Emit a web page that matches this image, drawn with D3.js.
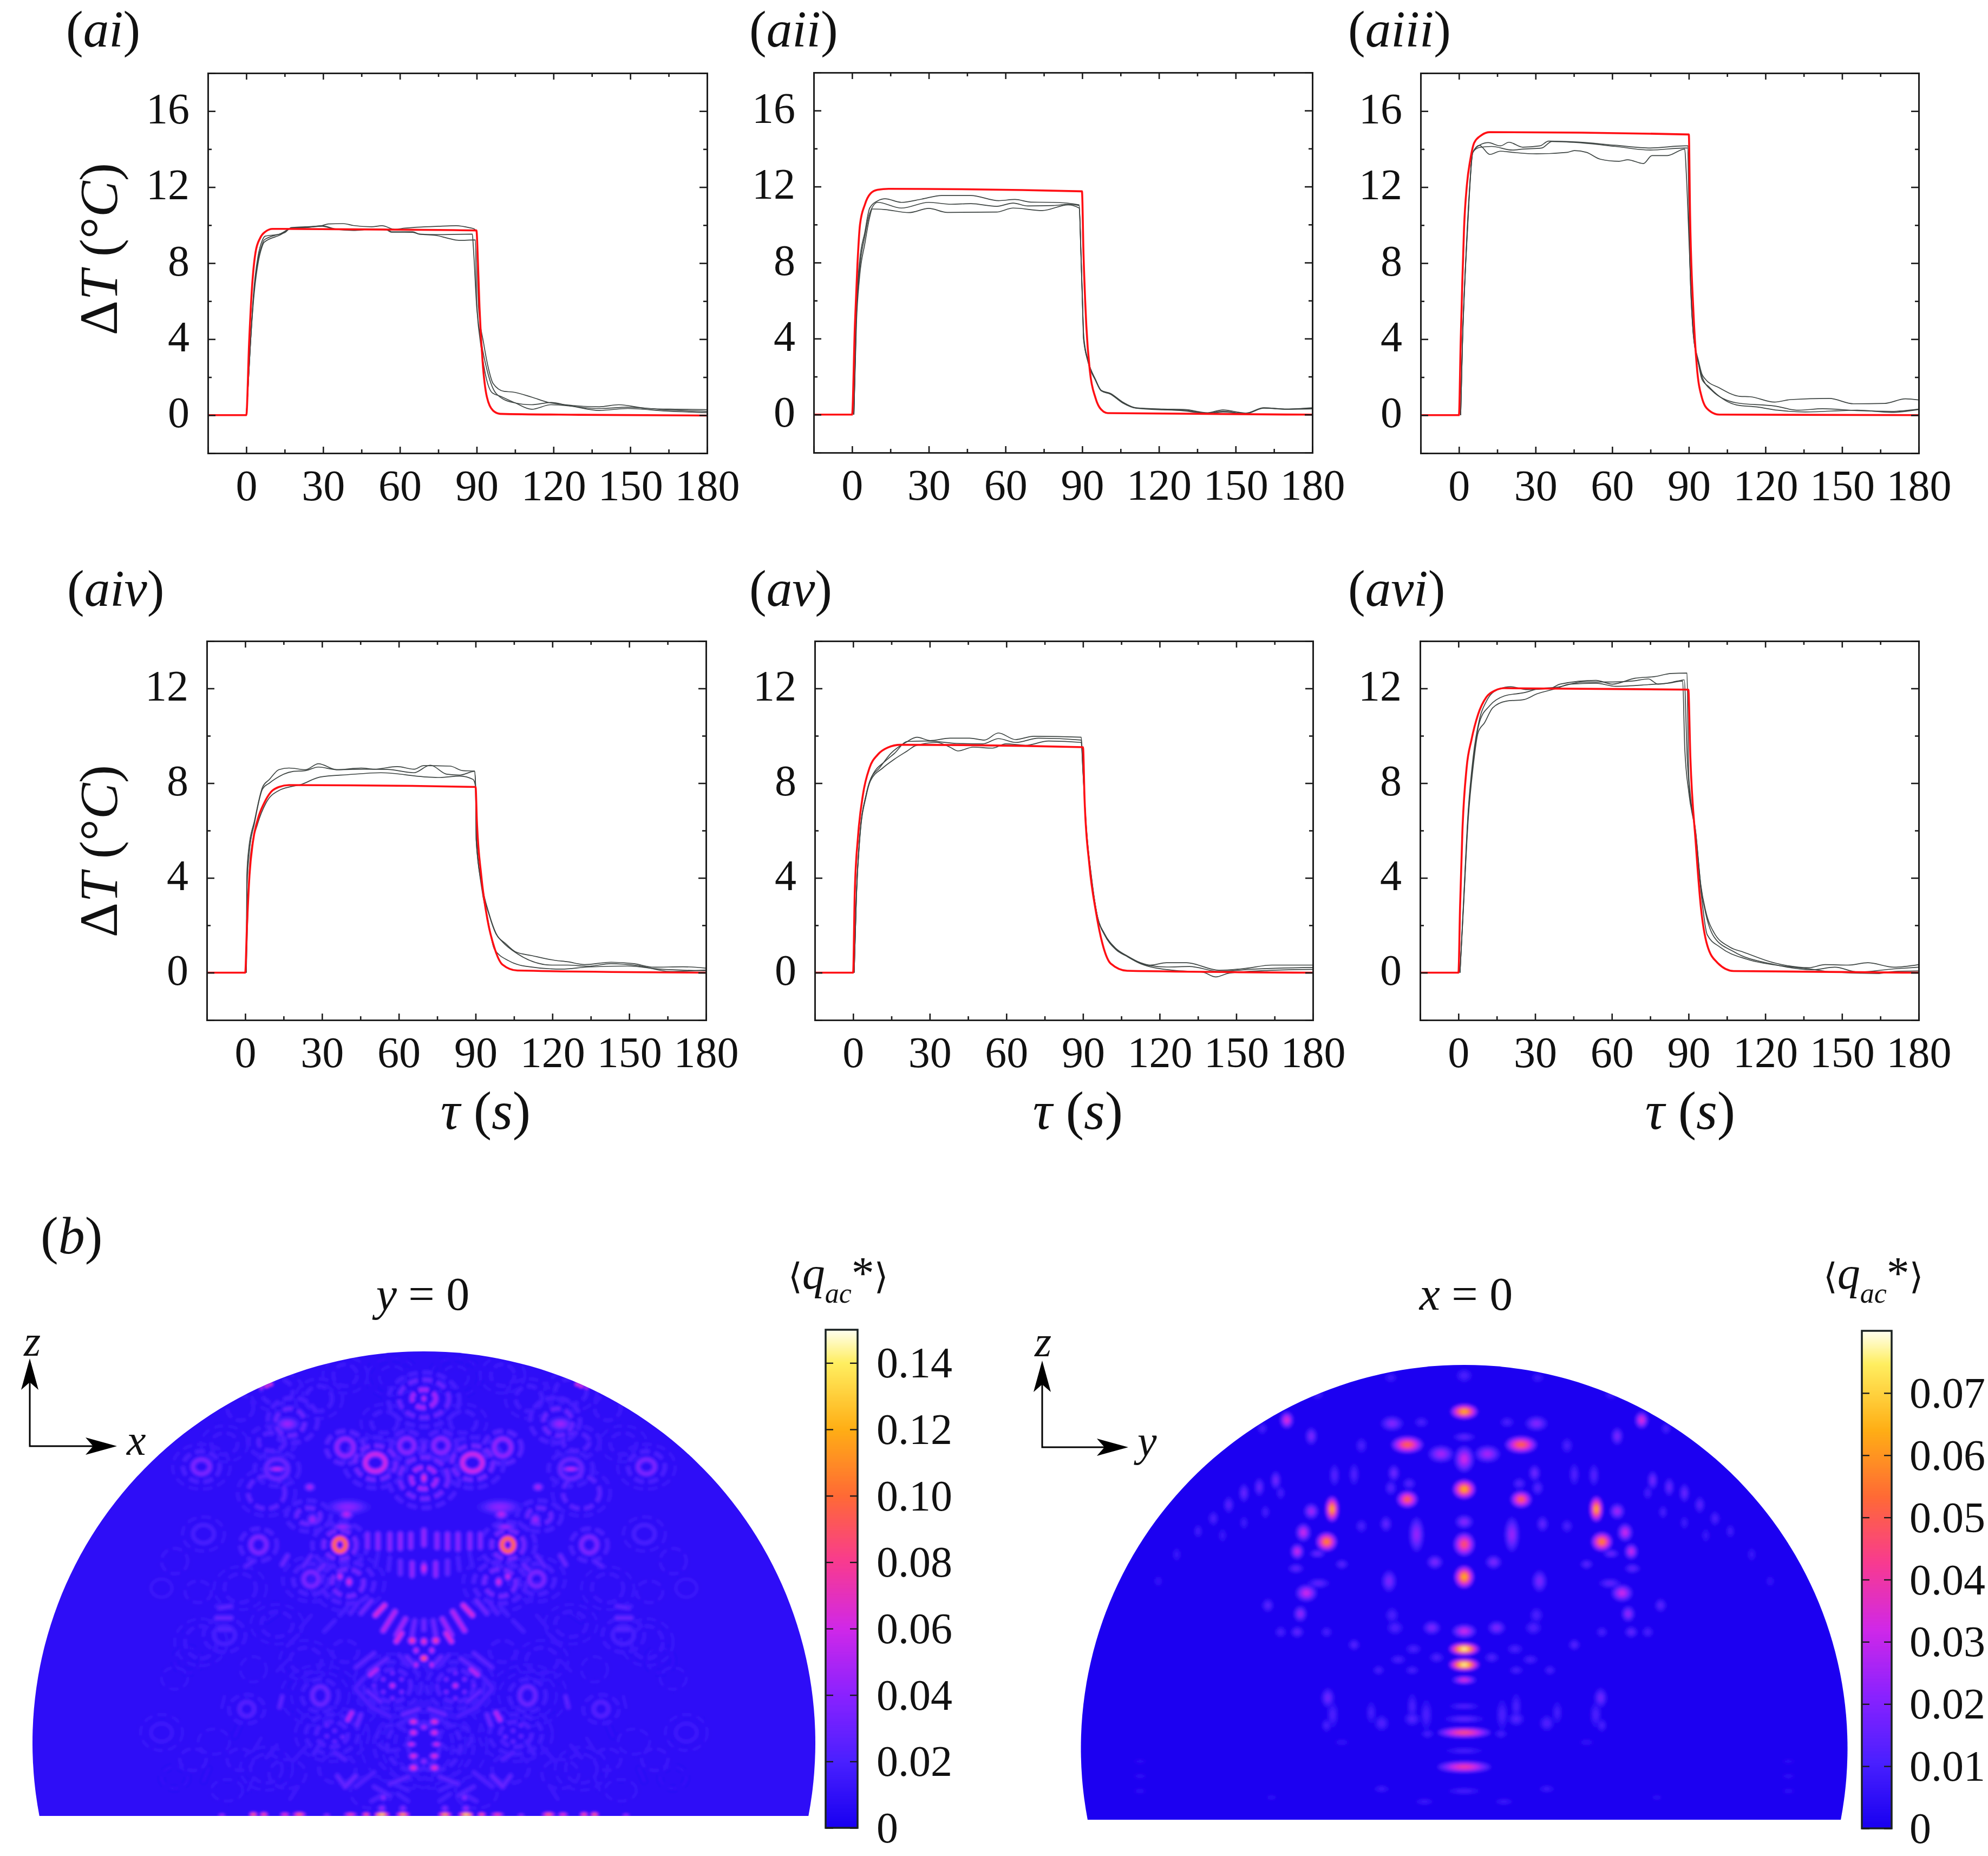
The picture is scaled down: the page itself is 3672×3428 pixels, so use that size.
<!DOCTYPE html>
<html><head><meta charset="utf-8">
<script src="https://cdn.jsdelivr.net/npm/d3@7"></script>
<style>
html,body{margin:0;padding:0;background:#fff}
svg{display:block}
text{font-family:"Liberation Serif","Times New Roman",serif;fill:#111}
.it{font-style:italic}
</style></head><body><svg id="fig" width="3672" height="3428" viewBox="0 0 3672 3428"></svg>
<script>
// ---------- tick labels and categories ----------
const xTicks=[0,30,60,90,120,150,180], xMinor=[15,45,75,105,135,165];
const yTicksTop=[0,4,8,12,16], yMinorTop=[2,6,10,14];
const yTicksBot=[0,4,8,12], yMinorBot=[2,6,10];
const barTicksL=[0,0.02,0.04,0.06,0.08,0.10,0.12,0.14], barLabelsL=["0","0.02","0.04","0.06","0.08","0.10","0.12","0.14"];
const barTicksR=[0,0.01,0.02,0.03,0.04,0.05,0.06,0.07], barLabelsR=["0","0.01","0.02","0.03","0.04","0.05","0.06","0.07"];
const cmapStops=[0,.133,.267,.4,.533,.667,.8,.933,1];
const cmapColors=["#1800f0","#4a20ff","#8a22ff","#d028e8","#f83a90","#ff6a35","#ffae15","#ffee60","#fffff0"];

// ---------- curves: [tau, deltaT] ----------
const aiRed=[[-15,0],[0,0],[1.1,3.8],[2.2,6.66],[3.6,8.56],[5.4,9.32],[7.4,9.65],[10.3,9.8],[14,9.8],[60,9.76],[89.9,9.72],[90.5,8],[91.1,5.7],[92.3,2.85],[94,.95],[96.4,.24],[99.2,.07],[130,.02],[180,-.02]];
const aiA=[[0,0],[.5,1],[1.5,3.5],[3,6.66],[4.6,8.37],[6.2,9.18],[7.4,9.42],[12,9.5],[15,9.6],[17.5,9.87],[23,9.91],[29.7,9.98],[32,10.06],[37.8,10.08],[41.8,9.98],[49,9.91],[53,9.97],[58,9.78],[62,9.84],[66.9,9.89],[75,9.94],[82,9.97],[87,9.87],[89,9.8],[90,9.65],[90.3,7.6],[90.7,5.7],[92.7,3.8],[94.7,2.4],[96.4,1.67],[100.8,1.25],[103.9,1.22],[111.5,.95],[118,.67],[124.7,.55],[137.9,.44],[145.5,.55],[156.8,.35],[168,.31],[180,.29]];
const aiB=[[0,0],[.5,1],[1.5,3.5],[3,6.5],[4.6,8.2],[6,8.9],[7,9.22],[13.5,9.56],[17.5,9.82],[23,9.87],[29.7,9.96],[34.5,9.81],[41.8,9.75],[49,9.8],[54.7,9.78],[56.7,9.65],[65,9.65],[67.7,9.53],[74,9.5],[88.3,9.53],[88.7,8.84],[90,5.7],[92,3.3],[93.5,2.1],[96,1.19],[99.2,1],[105,.65],[111.5,.31],[119,.55],[126,.49],[137.9,.25],[149,.35],[164,.22],[180,.13]];
const aiC=[[0,0],[.5,1],[1.5,3.5],[3,6.3],[4.6,8],[6,8.8],[7,9.1],[13.5,9.5],[17.5,9.84],[23,9.87],[29.7,9.94],[34.5,9.78],[41.8,9.72],[49,9.78],[54.7,9.75],[56.7,9.63],[65,9.62],[67.7,9.52],[74,9.46],[79,9.3],[83,9.2],[89.5,9.22],[90,5.9],[92,3.7],[94,2.4],[97.6,1.14],[104,.67],[111.5,.55],[119,.67],[126,.5],[137.9,.35],[149,.42],[164,.28],[180,.2]];

const aiiRed=[[-15,0],[0,0],[1.1,4.7],[2.1,7.9],[3.1,10],[5,11.05],[7.2,11.63],[10,11.83],[14.3,11.88],[89.9,11.75],[90.5,8.5],[91.6,4.7],[93,2.3],[95.2,.88],[97.4,.27],[100,.08],[180,0]];
const aiiA=[[.7,0],[1.7,5.6],[2.9,8],[5,9.6],[6.9,10.87],[10,11.25],[12.9,11.36],[19.3,11.17],[27.2,11.34],[35,11.53],[46.5,11.53],[57.3,11.26],[63.7,11.32],[70,11.18],[78.7,11.17],[88.8,11.04],[89.5,8.5],[90.2,5.64],[90.5,4],[92.3,2.8],[95.2,1.83],[97.4,1.28],[101,1.12],[106,.65],[111,.36],[121.7,.29],[130,.27],[139,.1],[145,.25],[154,.08],[161,.36],[170,.29],[180,.36]];
const aiiB=[[.7,0],[1.7,5.2],[2.9,7.6],[5,9.4],[6.9,10.6],[10,11.17],[19.3,10.87],[30,11.17],[38.7,11.07],[46.5,11.1],[56.5,10.96],[63,11.13],[68.7,10.98],[78.7,11],[84.5,11.07],[88.8,11],[89.6,8.2],[90.2,5.5],[90.6,4.1],[92.3,2.85],[95.2,1.85],[97.4,1.28],[101,1.1],[106,.62],[111,.35],[121.7,.27],[130,.2],[139,.05],[145,.14],[154,.06],[161,.35],[170,.29],[180,.33]];
const aiiC=[[.7,0],[1.7,4.8],[2.9,7.2],[5,9],[6.9,10.4],[7.9,10.82],[12.9,10.79],[22.2,10.63],[30,10.85],[37.2,10.64],[56.5,10.66],[63,10.87],[74.4,10.74],[84.5,11.04],[88.8,10.87],[89.6,8],[90.2,5.4],[90.6,4],[92.3,2.75],[95.2,1.8],[97.4,1.25],[101,1.08],[106,.6],[111,.34],[121.7,.25],[130,.22],[139,.08],[145,.18],[154,.05],[161,.34],[170,.28],[180,.3]];

const aiiiRed=[[-15,0],[0,0],[.67,3.75],[1.35,7.13],[2,9.83],[3.1,12.09],[4.45,13.44],[6,14.34],[8.8,14.73],[12.1,14.89],[90,14.77],[90.5,10.5],[91.8,5.44],[93.1,2.62],[95.1,.93],[97.8,.26],[101.9,.03],[180,0]];
const aiiiA=[[.67,0],[1.35,3.75],[2.7,8.26],[4,11.6],[5.4,13.83],[8.4,14.23],[11.5,14.34],[16.2,14.17],[19.6,14.36],[25,14.1],[31.7,14.17],[35.1,14.42],[46.6,14.37],[61.4,14.2],[74.9,14.06],[88.4,14.17],[89.7,14.17],[90.4,8.26],[91.8,4.3],[93.8,2.85],[95.1,2.17],[96.5,1.89],[101.9,1.44],[110,.99],[114,.97],[123.5,.69],[130,.82],[145,.88],[154.5,.6],[166.7,.62],[174.8,.86],[180,.8]];
const aiiiB=[[.67,0],[1.35,3.7],[2.7,8.2],[4,11.5],[5.4,13.83],[8.1,14.09],[12.8,14.14],[20.9,13.95],[25,14],[32.4,14.06],[36.4,14.4],[46.6,14.34],[61.4,14.14],[74.9,13.95],[88.4,14.06],[89.5,14.06],[90.4,8.1],[91.8,4.2],[93.8,2.7],[95.1,2.05],[99.2,1.27],[108.6,.65],[123.5,.48],[133,.26],[142.4,.34],[155.9,.24],[169.4,.2],[180,.32]];
const aiiiC=[[.67,0],[1.35,3.6],[2.7,8.1],[4,11.4],[5.4,13.8],[8,14.2],[12.1,13.72],[16.2,13.89],[20.9,13.83],[30.4,13.75],[42.5,13.83],[45.2,13.92],[49.9,13.83],[55.3,13.47],[62.7,13.36],[66.1,13.44],[72.2,13.24],[75.6,13.66],[81.6,13.66],[88.4,14],[89,12.76],[90.4,8.1],[91.8,4.2],[93.8,2.7],[95.1,1.9],[97.8,1.5],[99.9,1.22],[108.6,.54],[116.7,.43],[124.8,.26],[135.6,.17],[155.9,.26],[169.4,.15],[180,.3]];

const aivRed=[[-15,0],[0,0],[.64,1.83],[1.67,4.11],[2.95,5.48],[4.9,6.47],[7.4,7.16],[10,7.62],[13.2,7.84],[17.1,7.92],[90,7.84],[90.5,6.4],[92.2,4.11],[94.7,2.2],[97.3,1.07],[100.5,.34],[106.3,.09],[180,0]];
const aivA=[[.4,0],[.64,4.1],[1.4,5.25],[3.6,6.4],[6.8,7.84],[9.4,8.15],[13.2,8.57],[17.1,8.64],[23.5,8.57],[28.6,8.82],[35.7,8.57],[45.3,8.64],[50.4,8.59],[59.4,8.7],[65.9,8.59],[69.7,8.74],[80,8.72],[85,8.53],[89.6,8.51],[90,7.9],[90.2,5.64],[92.2,3.88],[95.4,2.44],[97.9,1.68],[101.8,1.22],[105.6,.88],[112,.72],[121,.52],[126,.46],[132.6,.34],[142.9,.44],[151.9,.38],[159.6,.23],[171,.25],[180,.19]];
const aivB=[[.4,0],[.7,3.6],[1.5,5],[3.6,6.3],[6.8,7.76],[9.4,8],[18.4,8.49],[23.5,8.53],[28.6,8.68],[35.7,8.57],[46.6,8.59],[55.6,8.58],[65.9,8.44],[72.3,8.76],[78.7,8.38],[83.8,8.34],[89.6,8.5],[90,7.8],[90.3,5.5],[92.2,3.8],[95.4,2.4],[97.9,1.65],[100.5,1.3],[106.3,.8],[119.8,.32],[126,.32],[133.9,.27],[142.9,.38],[153.2,.3],[166,.05],[180,.11]];
const aivC=[[.4,0],[1,2.5],[2,4.9],[4.9,6.3],[8.1,7.16],[13.2,7.69],[22.2,7.96],[29.3,8.26],[40.2,8.36],[53,8.44],[71,8.26],[76.1,8.24],[83.8,8.3],[89,8.16],[90,7.84],[90.5,5.5],[92.2,3.7],[94.7,2.3],[97.3,1],[103,.5],[109.5,.27],[123.6,.15],[133.9,.24],[149.3,.28],[162.1,.15],[180,.08]];

const avRed=[[-15,0],[0,0],[.64,3.35],[1.93,5.75],[3.86,7.52],[6.4,8.64],[9.6,9.2],[13.5,9.5],[18.6,9.62],[90,9.52],[90.6,7.36],[92.5,4.55],[95.1,2.55],[97.7,1.19],[100.9,.38],[107.3,.08],[180,0]];
const avA=[[.4,0],[1.3,3.35],[2.6,5.75],[5.1,7.52],[6.8,8.16],[10.3,8.64],[14.8,9.26],[20.6,9.72],[25,9.94],[30.2,9.8],[37.9,9.9],[45.6,9.9],[51.4,9.82],[56.9,10.12],[63.6,9.84],[70.7,9.98],[89.3,9.94],[90,8.56],[91.3,6.15],[93.2,4.15],[95.8,2.31],[98.3,1.67],[102.8,1.03],[107.3,.71],[112.5,.42],[116.3,.32],[122.7,.42],[130.5,.42],[143.3,.1],[153.6,.18],[163.9,.32],[180,.32]];
const avB=[[.4,0],[1.3,3.3],[2.6,5.7],[5.1,7.5],[6.8,8.16],[12.9,8.96],[16,9.24],[21.2,9.76],[28.9,9.78],[40.5,9.68],[50.8,9.66],[56.9,9.88],[63.6,9.72],[72.6,9.9],[89.3,9.82],[90,8.5],[91.3,6.1],[93.2,4.1],[95.8,2.3],[98.3,1.65],[102.8,1],[107.3,.7],[112.5,.4],[116.3,.3],[122.7,.24],[131.7,.26],[143.3,.05],[155,.14],[180,.22]];
const avC=[[.4,0],[1.3,3.25],[2.6,5.65],[5.1,7.45],[6.8,8.1],[11.6,8.64],[16,9],[21.2,9.36],[24.4,9.58],[32.8,9.72],[37.9,9.52],[41.1,9.36],[46.9,9.52],[54.6,9.48],[59.8,9.66],[67.5,9.6],[76.5,9.78],[89.3,9.72],[90,8.45],[91.3,6],[93.2,4.05],[95.8,2.28],[98.3,1.62],[102.8,.98],[107.3,.68],[112.5,.38],[116.3,.25],[125.3,.1],[136.9,.02],[142,-.18],[147.2,-.02],[163.9,.1],[180,.14]];

const aviRed=[[-15,0],[0,0],[.64,2.78],[1.54,5.94],[3.2,8.65],[5.1,9.83],[7.7,10.91],[10.9,11.63],[14.1,11.9],[17.9,12.01],[89.9,11.95],[90.7,9.1],[92.8,5.49],[94.8,2.78],[97.3,1.16],[101.2,.43],[107.6,.07],[180,0]];
const aviA=[[.6,0],[1.9,2.78],[3.84,6.85],[5.76,9.1],[8.3,10.73],[10.9,11.45],[15.4,11.95],[20.5,12.07],[26.9,11.95],[35.9,12],[39.7,12.18],[53.8,12.34],[60.2,12.18],[69.1,12.43],[76.8,12.5],[83.2,12.63],[89.4,12.65],[90,8.5],[90.6,7.6],[92.8,5.94],[94.8,3.69],[96.7,2.6],[99.9,1.7],[106.3,1.07],[111.4,.87],[122.9,.43],[137,.21],[143.4,.34],[152.4,.32],[160.1,.42],[170.3,.23],[180,.34]];
const aviB=[[.6,0],[1.9,2.7],[3.84,6.7],[5.76,8.9],[8.3,10.6],[12.2,11.27],[17.9,11.68],[25.6,11.82],[32,12],[38.4,12.05],[48.7,12.27],[60.2,12.27],[67.9,12.31],[74.3,12.4],[78.1,12.18],[85.8,12.31],[88.3,12.36],[89.5,9],[90.3,7.75],[92.8,5.9],[94.8,3.65],[96.7,2.5],[99.9,1.52],[107.6,.89],[122.9,.36],[138.3,.12],[147.2,.23],[156.2,.03],[170.3,.16],[180,.23]];
const aviC=[[.6,0],[1.9,2.6],[3.84,6.5],[5.76,8.7],[7.7,10.14],[10.2,10.55],[13.4,11.18],[18.6,11.46],[25.6,11.53],[30.7,11.77],[38.4,12],[43.5,12.18],[53.8,12.22],[61.5,12.09],[74.3,12.16],[81.9,12.22],[87.7,12.31],[88.5,9.5],[90.1,7.6],[92.8,5.8],[94.8,3.5],[97.3,1.6],[102.4,1.07],[112.7,.57],[125.5,.3],[138.3,.14],[146,.03],[163.9,-.04],[170.3,.05],[180,.07]];

// ---------- sampled hot spots of the two maps (one half, the maps are symmetric) ----------
// left map: [dx, y, rx, ry, value]
const mapLSpots=[[0,250,9,16,.06],[0,690,10,24,.07],[0,1190,10,30,.065],[0,520,8,42,.032],[295,890,20,22,.055],[290,850,60,32,.04],[310,960,32,16,.046],[425,920,16,26,.046],[435,740,16,18,.05],[285,1265,11,22,.065],[320,1235,11,20,.06],[520,390,34,28,.045],[560,640,30,12,.058],
[45,1590,13,18,.08],[0,1595,11,18,.075],[30,1645,10,16,.06],[0,1688,13,16,.095],[30,1725,9,16,.06],[120,1840,11,15,.062],[155,1805,9,13,.04],[85,1875,9,13,.04],[155,1875,9,13,.038],[85,1805,9,13,.038],[120,1770,9,13,.038],[120,1910,9,13,.038],[190,1840,9,13,.034],[50,1840,8,12,.028],
[40,2040,15,14,.072],[0,2070,13,14,.052],[40,2100,14,15,.068],[48,2165,15,12,.062],[40,2230,15,14,.068],[0,2260,13,16,.042],[40,2295,15,16,.072],[370,2060,10,13,.032],[340,2090,10,13,.032],[370,2120,10,13,.032],[310,2125,10,13,.034],[340,2150,10,13,.032],[155,2460,12,16,.042],[160,2520,13,16,.044],[80,2520,13,16,.038],
[80,2555,18,10,.125],[160,2555,20,10,.145],[220,2555,12,9,.1],[280,2555,18,8,.09],[475,2555,18,10,.105],[530,2555,14,9,.08],[610,2555,12,10,.095],[650,2555,12,10,.105],[370,2558,12,7,.05],[175,2558,8,7,.13],[770,2558,12,7,.055],[585,170,8,8,.09],[600,180,8,8,.09],[620,190,6,6,.08]];
// left map: [dx, y, rx, ry, value]
const mapLRings=[[0,250,45,50,.036],[0,250,95,105,.023],[0,255,135,150,.015],[0,690,48,60,.036],[0,690,92,115,.025],[0,690,135,165,.016],[185,605,38,48,.045],[185,605,78,95,.025],[185,605,120,140,.015],[300,520,32,48,.032],[300,520,72,90,.019],[65,510,28,40,.03],[65,510,60,80,.017],[320,1060,22,36,.075],[320,1060,62,80,.025],[320,1060,105,125,.016],[630,1060,30,45,.027],[630,1060,70,90,.016],[430,1250,28,40,.027],[430,1250,68,85,.016],[430,1250,108,125,.012],[510,380,55,75,.023],[500,370,95,125,.016],[580,490,50,50,.018],[580,490,90,90,.013],[560,640,42,55,.023],[560,640,85,95,.014],[600,770,70,90,.02],[600,770,110,130,.012],[440,900,45,45,.023],[440,900,85,85,.015],[290,1270,60,75,.025],[290,1270,100,115,.017],[290,1270,140,160,.012],[848,627,32,40,.027],[848,627,70,85,.016],[848,627,110,125,.011],[395,1895,30,50,.023],[395,1895,70,90,.014],[395,1895,110,130,.01],[675,1970,28,40,.018],[675,1970,68,80,.012],[840,1000,40,50,.015],[840,1000,80,95,.011],[760,1560,40,50,.015],[760,1560,80,95,.012],[1000,1300,40,50,.011],[950,1800,50,60,.01],[700,2250,50,60,.011],[880,2250,50,60,.011],[1000,2100,40,50,.012],[1000,2100,80,100,.01],[300,120,45,60,.012],[560,210,60,70,.014],[700,300,50,70,.012],[120,130,50,60,.01],[860,1320,50,60,.011],[120,2130,60,70,.014],[330,2300,70,80,.012],[520,2330,70,80,.011],
[120,1840,70,90,.017],[120,1840,110,130,.014],[120,1840,150,175,.011],[395,1895,150,170,.01],[40,2170,100,140,.015],[40,2170,150,190,.012],[40,2170,200,240,.01],[350,2110,60,70,.017],[350,2110,100,110,.014],[350,2110,140,150,.011],[600,2300,60,80,.011],[600,2300,100,120,.01],[800,2150,60,70,.01],[850,1600,60,90,.012],[850,1600,100,130,.01],[950,1150,50,70,.011],[700,1300,60,80,.012],[700,1300,100,120,.01],[560,1500,60,70,.012],[560,1500,100,110,.01],[300,1650,50,60,.012],[450,1700,60,70,.012],[450,1700,100,110,.01],[300,120,85,100,.01],[560,210,100,110,.011],[120,130,95,105,.009],[400,250,50,70,.014],[400,250,90,110,.011],[760,500,50,60,.012],[760,500,90,100,.01],[150,380,50,60,.014],[150,380,90,100,.011],[900,1700,50,70,.009],[650,1750,50,70,.01],[950,2350,50,60,.009],[750,2420,60,60,.01],[200,2430,80,90,.011]];
// left map: [dx1, y1, dx2, y2, value]
const mapLStrokes=[[50,1000,50,1075,.03],[90,1000,90,1080,.032],[130,1000,130,1085,.03],[175,1000,175,1080,.03],[215,1000,215,1075,.028],[0,980,0,1060,.032],[45,1160,45,1230,.032],[90,1150,90,1220,.023],[130,1130,135,1200,.016],[175,1110,185,1180,.014],
[150,1395,185,1450,.048],[110,1430,155,1535,.04],[70,1470,105,1560,.035],[85,1550,105,1595,.048],[200,1370,240,1440,.024],[250,1380,280,1440,.018],[35,1480,45,1560,.024],[0,1480,0,1530,.024],[65,1680,35,1730,.023],[95,1670,60,1730,.017],[290,1400,320,1450,.015],[340,1480,380,1540,.015],
[180,1750,205,1780,.04],[190,1660,260,1740,.02],[140,1690,210,1760,.021],[230,1800,260,1850,.017],[260,1860,200,1960,.017],[200,1960,130,2010,.017],[215,1870,165,1930,.021],[20,1970,80,2000,.023],[30,2010,70,2030,.015],[275,1990,290,2030,.04],[240,2000,255,2060,.023],[540,1900,550,1960,.02],[300,2400,260,2340,.023],[300,2400,330,2340,.021],[190,2320,260,2400,.017],[60,2345,130,2385,.02],[60,2420,130,2375,.015],[130,2450,190,2400,.018],[150,2440,200,2480,.017],[100,2440,60,2480,.015],[300,2250,340,2210,.018],[390,2150,420,2220,.015],[450,2180,500,2260,.012],[560,2170,600,2240,.012],[620,2130,650,2200,.011],[700,2050,720,2120,.009],[750,1400,790,1400,.014],[735,1465,790,1465,.023],[735,1400,780,1410,.02],[735,1530,780,1530,.018],[760,1900,770,1960,.011],[520,1700,560,1760,.011],[560,1440,600,1480,.009],[430,1450,470,1520,.012],[430,1120,460,1180,.02],[380,1170,400,1200,.023],[520,1120,540,1170,.023],[650,1150,680,1180,.019],[480,1560,520,1620,.012],[820,2300,840,2370,.009],[650,2350,670,2420,.01],[480,2400,510,2470,.012]];

// right map: [dx, y, rx, ry, value]
const mapRSpots=[[0,520,17,13,.065],[0,435,10,12,.012],[0,580,14,7,.016],[0,632,12,24,.032],[0,703,14,17,.065],[0,780,11,12,.022],[0,833,13,21,.048],[0,910,12,20,.065],[0,1038,15,12,.032],[0,1080,19,11,.078],[0,1117,19,11,.078],[0,1153,15,7,.036],[0,1215,20,5,.014],[0,1245,26,6,.016],[0,1277,34,9,.048],[0,1320,25,5,.012],[0,1358,34,10,.042],[0,1415,22,5,.012],[93,598,20,15,.052],[118,548,14,13,.021],[38,620,16,15,.026],[93,727,13,15,.052],[216,750,8,23,.065],[225,827,13,17,.058],[250,755,9,14,.026],[263,805,9,16,.032],[273,850,8,14,.032],[290,540,8,15,.036],[250,578,7,16,.02],[78,810,9,32,.024],[48,875,10,12,.02],[123,920,9,20,.02],[258,948,13,15,.032],[238,925,14,8,.016],[268,997,8,14,.024],[321,977,7,12,.015],[273,1040,8,10,.016],[53,1030,11,12,.02],[113,1030,10,12,.013],[83,1080,10,9,.012],[108,1105,10,8,.012],[168,600,7,14,.012],[223,1195,8,18,.018],[118,1000,8,14,.012],[120,700,7,13,.014],[115,665,7,15,.018],[168,790,7,12,.012],[128,785,7,14,.016],[45,1100,9,9,.013],[85,1130,9,7,.012],[140,1130,7,8,.012],[180,1070,7,10,.014],[225,1040,7,9,.012],[300,1040,7,10,.012],[240,855,10,7,.018],[275,890,10,8,.016],[200,880,8,8,.015],[70,545,9,9,.012],[60,1280,8,7,.012],[85,1245,10,12,.014],[135,1255,9,14,.013],[225,1260,6,12,.012],[135,1410,10,6,.01],[65,1440,12,5,.01],[200,1300,10,5,.008],[315,1430,8,5,.006],[530,1415,10,4,.007],[530,1380,10,4,.007],[530,1345,10,4,.006],[240,480,8,8,.01],[120,440,8,8,.01],[330,560,6,10,.012],
[308,682,6,17,.019],[335,698,6,17,.017],[360,712,6,17,.017],[385,740,6,15,.015],[410,772,6,13,.013],[435,802,5,12,.011],[470,857,5,12,.009],[500,920,5,10,.008],[300,712,5,12,.012],[325,757,5,12,.012],[360,782,5,12,.01],[395,812,5,12,.009],[180,668,6,20,.013],[212,670,6,20,.014],[90,690,8,10,.014],[62,1235,7,28,.012],[85,1215,6,24,.012],[215,1235,7,24,.012],[152,1230,6,20,.011]];

// ---------- scales ----------
const svg=d3.select("#fig");
svg.append("rect").attr("width",3672).attr("height",3428).attr("fill","#fff");
const cmap=d3.scaleLinear().domain(cmapStops).range(cmapColors).clamp(true);
const defs=svg.append("defs");

// ---------- panels a ----------
const panels=[
 {lab:"ai",x0:384,x1:1306,y0:135,y1:837,top:18,tk:yTicksTop,mn:yMinorTop,red:aiRed,g:[aiA,aiB,aiC],lx:122,ly:86,yl:460},
 {lab:"aii",x0:1503,x1:2424,y0:134,y1:836,top:18,tk:yTicksTop,mn:yMinorTop,red:aiiRed,g:[aiiA,aiiB,aiiC],lx:1384,ly:86},
 {lab:"aiii",x0:2624,x1:3544,y0:135,y1:837,top:18,tk:yTicksTop,mn:yMinorTop,red:aiiiRed,g:[aiiiA,aiiiB,aiiiC],lx:2490,ly:86},
 {lab:"aiv",x0:382,x1:1304,y0:1184,y1:1884,top:14,tk:yTicksBot,mn:yMinorBot,red:aivRed,g:[aivA,aivB,aivC],lx:124,ly:1119,yl:1572,xl:897},
 {lab:"av",x0:1505,x1:2425,y0:1184,y1:1884,top:14,tk:yTicksBot,mn:yMinorBot,red:avRed,g:[avA,avB,avC],lx:1384,ly:1119,xl:1991},
 {lab:"avi",x0:2623,x1:3544,y0:1184,y1:1884,top:14,tk:yTicksBot,mn:yMinorBot,red:aviRed,g:[aviA,aviB,aviC],lx:2490,ly:1119,xl:3122}];
panels.forEach((p,i)=>{
 const x=d3.scaleLinear().domain([-15,180]).range([p.x0,p.x1]);
 const y=d3.scaleLinear().domain([-2,p.top]).range([p.y1,p.y0]);
 const g=svg.append("g");
 const clip="cp"+i;
 defs.append("clipPath").attr("id",clip).append("rect").attr("x",p.x0).attr("y",p.y0).attr("width",p.x1-p.x0).attr("height",p.y1-p.y0);
 const line=d3.line().x(d=>x(d[0])).y(d=>y(d[1])).curve(d3.curveMonotoneX);
 const cg=g.append("g").attr("clip-path",`url(#${clip})`);
 cg.selectAll(".gr").data(p.g).join("path").attr("class","gr").attr("d",line).attr("fill","none").attr("stroke","#3d4442").attr("stroke-width",1.7);
 cg.append("path").attr("d",line(p.red)).attr("fill","none").attr("stroke","#ff0f14").attr("stroke-width",3.6);
 const st=s=>s.selectAll(".domain,line").attr("stroke","#1a1a1a").attr("stroke-width",2.6);
 g.append("g").attr("transform",`translate(0,${p.y1})`).call(d3.axisBottom(x).tickValues(xTicks).tickSize(-12).tickFormat(d3.format("d"))).call(st)
   .call(s=>s.selectAll("text").attr("y",87).attr("dy",0).attr("font-size",80).attr("fill","#111").attr("font-family","Liberation Serif"));
 g.append("g").attr("transform",`translate(0,${p.y1})`).call(d3.axisBottom(x).tickValues(xMinor).tickSize(-7).tickFormat("")).call(st);
 g.append("g").attr("transform",`translate(0,${p.y0})`).call(d3.axisTop(x).tickValues(xTicks).tickSize(-12).tickFormat("")).call(st);
 g.append("g").attr("transform",`translate(0,${p.y0})`).call(d3.axisTop(x).tickValues(xMinor).tickSize(-7).tickFormat("")).call(st);
 g.append("g").attr("transform",`translate(${p.x0},0)`).call(d3.axisLeft(y).tickValues(p.tk).tickSize(-14).tickFormat(d3.format("d"))).call(st)
   .call(s=>s.selectAll("text").attr("x",-34).attr("dy",22).attr("font-size",80).attr("fill","#111").attr("font-family","Liberation Serif"));
 g.append("g").attr("transform",`translate(${p.x0},0)`).call(d3.axisLeft(y).tickValues(p.mn).tickSize(-7).tickFormat("")).call(st);
 g.append("g").attr("transform",`translate(${p.x1},0)`).call(d3.axisRight(y).tickValues(p.tk).tickSize(-14).tickFormat("")).call(st);
 g.append("g").attr("transform",`translate(${p.x1},0)`).call(d3.axisRight(y).tickValues(p.mn).tickSize(-7).tickFormat("")).call(st);
 const t=svg.append("text").attr("x",p.lx).attr("y",p.ly).attr("font-size",95);
 t.append("tspan").text("(");t.append("tspan").attr("class","it").text(p.lab);t.append("tspan").text(")");
 if(p.yl){
  const yt=svg.append("text").attr("transform",`translate(216,${p.yl}) rotate(-90)`).attr("text-anchor","middle").attr("font-size",100);
  yt.append("tspan").text("Δ");yt.append("tspan").attr("class","it").text("T");yt.append("tspan").text(" (°");yt.append("tspan").attr("class","it").text("C");yt.append("tspan").text(")");
 }
 if(p.xl){
  const xt=svg.append("text").attr("x",p.xl).attr("y",2085).attr("text-anchor","middle").attr("font-size",100);
  xt.append("tspan").attr("class","it").text("τ");xt.append("tspan").text(" (");xt.append("tspan").attr("class","it").text("s");xt.append("tspan").text(")");
 }
});

// ---------- maps ----------
function softFilter(id,sd){
 defs.append("filter").attr("id",id).attr("x","-5%").attr("y","-5%").attr("width","110%").attr("height","110%")
  .append("feGaussianBlur").attr("stdDeviation",sd);
}
softFilter("softL",2.8);softFilter("softR",3);
const lineLev=[[1.5,.4],[1.1,.65],[.75,.85],[.4,1]];
function drawMap(o){
 const {cx,cy,r,bottom,vmax,spots,rings,strokes,sx,sy,bg,base,size,filter,gain}=o;
 const spotLev=[[1,.28],[.82,.45],[.66,.62],[.5,.78],[.34,.92],[.18,1]].map(([k,f])=>[k*size,f]);
 const id="mc"+Math.round(cx);
 const cp=defs.append("clipPath").attr("id",id);
 const h=bottom-cy, w=Math.sqrt(r*r-h*h);
 cp.append("path").attr("d",`M${cx-w},${bottom}A${r},${r} 0 1 1 ${cx+w},${bottom}Z`);
 const g=svg.append("g").attr("clip-path",`url(#${id})`);
 const kx=Math.abs(sx(1)-sx(0)), ky=Math.abs(sy(1)-sy(0));
 const items=[];
 const sides=d=>d===0?[1]:[1,-1];
 (spots||[]).forEach(s=>sides(s[0]).forEach(m=>spotLev.forEach(([k,f])=>items.push({tag:"ellipse",cx:sx(m*s[0]),cy:sy(s[1]),rx:s[2]*kx*k,ry:s[3]*ky*k,v:s[4]*f,fill:true}))));
 (rings||[]).forEach(s=>sides(s[0]).forEach(m=>lineLev.forEach(([k,f])=>items.push({tag:"ellipse",cx:sx(m*s[0]),cy:sy(s[1]),rx:s[2]*kx,ry:s[3]*ky,v:s[4]*f*gain,w:base*k,dash:s[2]>=45}))));
 (strokes||[]).forEach(s=>[1,-1].forEach(m=>lineLev.forEach(([k,f])=>items.push({tag:"line",x1:sx(m*s[0]),y1:sy(s[1]),x2:sx(m*s[2]),y2:sy(s[3]),v:s[4]*f*gain,w:base*k}))));
 items.sort((a,b)=>a.v-b.v);
 const lay=g.append("g").attr("filter",`url(#${filter})`);
 lay.append("rect").attr("x",cx-r-20).attr("y",cy-r-20).attr("width",2*r+40).attr("height",bottom-cy+r+40).attr("fill",cmap(bg/vmax));
 lay.selectAll("*.m").data(items).enter().append(d=>document.createElementNS("http://www.w3.org/2000/svg",d.tag))
  .each(function(d){
    const s=d3.select(this);
    if(d.tag==="ellipse"){s.attr("cx",d.cx).attr("cy",d.cy).attr("rx",d.rx).attr("ry",d.ry);
      if(d.fill)s.attr("fill",cmap(d.v/vmax));else{s.attr("fill","none").attr("stroke",cmap(d.v/vmax)).attr("stroke-width",d.w);if(d.dash)s.attr("stroke-dasharray","18 9");}}
    else s.attr("x1",d.x1).attr("y1",d.y1).attr("x2",d.x2).attr("y2",d.y2).attr("stroke",cmap(d.v/vmax)).attr("stroke-width",d.w).attr("stroke-linecap","round");
  });
}
const lx=d3.scaleLinear().domain([-1000,1000]).range([783-484.7,783+484.7]);
const ly=d3.scaleLinear().domain([0,1000]).range([2500,2833.33]);
drawMap({cx:783,cy:3219,r:723,bottom:3354,vmax:.15,spots:mapLSpots,rings:mapLRings,strokes:mapLStrokes,sx:lx,sy:ly,bg:.009,base:9,size:1.5,filter:"softL",gain:1.35});
const rx=d3.scaleLinear().domain([-885,885]).range([2704.5-1000,2704.5+1000]);
const ry=d3.scaleLinear().domain([0,1277]).range([2200,3200]);
drawMap({cx:2704.5,cy:3229,r:708,bottom:3361,vmax:.08,spots:mapRSpots,rings:[],strokes:[],sx:rx,sy:ry,bg:.001,base:7,size:1.25,filter:"softR",gain:1});

// ---------- colour bars ----------
function drawBar(b){
 const y=d3.scaleLinear().domain([0,b.vmax]).range([b.y1,b.y0]);
 const g=svg.append("g");
 const steps=d3.range(0,1,0.0025);
 g.selectAll(".st").data(steps).join("rect").attr("class","st").attr("x",b.x0).attr("width",b.x1-b.x0)
  .attr("y",d=>y((d+.0025)*b.vmax)).attr("height",(b.y1-b.y0)*.0025+1).attr("fill",d=>cmap(d));
 g.append("rect").attr("x",b.x0).attr("y",b.y0).attr("width",b.x1-b.x0).attr("height",b.y1-b.y0).attr("fill","none").attr("stroke","#1a2222").attr("stroke-width",3.5);
 const tl=g.append("g").attr("transform",`translate(${b.x0},0)`).call(d3.axisLeft(y).tickValues(b.ticks).tickSize(-14).tickFormat(""));
 const tr=g.append("g").attr("transform",`translate(${b.x1},0)`).call(d3.axisRight(y).tickValues(b.ticks).tickSize(-14).tickFormat(""));
 [tl,tr].forEach(s=>{s.select(".domain").remove();s.selectAll("line").attr("stroke","#1a1a1a").attr("stroke-width",2.4);});
 g.selectAll(".bl").data(b.ticks).join("text").attr("class","bl").attr("x",b.lx).attr("y",d=>y(d)+27).attr("font-size",80).text((d,i)=>b.labels[i]);
 const t=svg.append("text").attr("x",b.tx).attr("y",2380).attr("font-size",84);
 t.append("tspan").attr("font-family","DejaVu Serif").attr("font-size",66).text("⟨");
 t.append("tspan").attr("class","it").text("q");
 t.append("tspan").attr("class","it").attr("font-size",52).attr("dy",26).text("ac");
 t.append("tspan").attr("dy",-26).text("*");
 t.append("tspan").attr("font-family","DejaVu Serif").attr("font-size",66).text("⟩");
}
drawBar({x0:1525,x1:1584,y0:2456,y1:3376,vmax:.15,ticks:barTicksL,labels:barLabelsL,lx:1619,tx:1456});
drawBar({x0:3439,x1:3494,y0:2458,y1:3377,vmax:.08,ticks:barTicksR,labels:barLabelsR,lx:3527,tx:3368});

// ---------- map titles and direction arrows ----------
function tag(x,y,size,parts,anchor){
 const t=svg.append("text").attr("x",x).attr("y",y).attr("font-size",size).attr("text-anchor",anchor||"start");
 parts.forEach(([s,it])=>{const p=t.append("tspan").text(s);if(it)p.attr("class","it");});
}
tag(75,2315,98,[["("],["b",1],[")"]]);
tag(781,2419,86,[["y",1],[" = 0"]],"middle");
tag(2708,2419,86,[["x",1],[" = 0"]],"middle");
function arrows(ox,oy,tipY,tipX,a,b){
 svg.append("path").attr("d",`M${ox},${tipY+20}V${oy}H${tipX-20}`).attr("fill","none").attr("stroke","#000").attr("stroke-width",3);
 svg.append("path").attr("d",`M${ox},${tipY}l-16,58l16,-14l16,14Z`).attr("fill","#000");
 svg.append("path").attr("d",`M${tipX},${oy}l-58,-16l14,16l-14,16Z`).attr("fill","#000");
 tag(a[0],a[1],80,[[a[2],1]]);tag(b[0],b[1],80,[[b[2],1]]);
}
arrows(55,2671,2509,216,[44,2504,"z"],[234,2687,"x"]);
arrows(1925,2673,2513,2084,[1911,2505,"z"],[2101,2689,"y"]);
</script></body></html>
